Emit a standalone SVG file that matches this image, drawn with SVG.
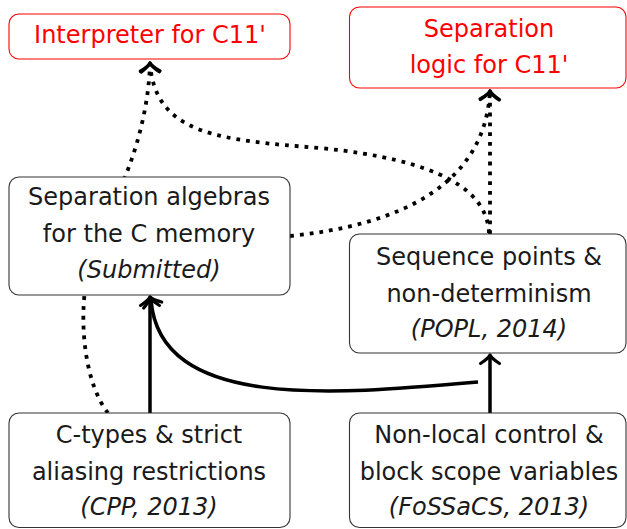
<svg xmlns="http://www.w3.org/2000/svg" width="627" height="529" viewBox="0 0 627 529">
<style>
.box{fill:#fff;stroke:#333;stroke-width:1.1}
.red{fill:#fff;stroke:#f00;stroke-width:1.1}
text{font-family:"DejaVu Sans","Liberation Sans",sans-serif;font-size:24px;text-anchor:middle;fill:#1a1a1a}
.rt{fill:#f00}
.it{font-style:italic}
.solid{fill:none;stroke:#000;stroke-width:3.5}
.dot{fill:none;stroke:#000;stroke-width:3.8;stroke-dasharray:3.8 6}
</style>
<defs>
<marker id="arr" markerUnits="userSpaceOnUse" markerWidth="24" markerHeight="24" viewBox="-12 -12 24 24" refX="0" refY="0" orient="auto" overflow="visible">
<path d="M-8.5,-9.5 C-5,-4 -2,-1 0,0 C-2,1 -5,4 -8.5,9.5" fill="none" stroke="#000" stroke-width="3.2" stroke-linecap="round" stroke-linejoin="round"/>
</marker>
</defs>
<g id="connectors">
<path class="dot" d="M108,413 C86,385 80,330 85,290 C90,250 115,200 125,177 C140,140 149,100 150,63" marker-end="url(#arr)"/>
<path class="dot" d="M489,233 C487,190 440,160 320,148 C220,140 155,135 150,63" marker-end="url(#arr)"/>
<path class="dot" d="M290,236 C400,225 485,185 490,91" marker-end="url(#arr)"/>
<path class="dot" d="M490,234 L490,91" marker-end="url(#arr)"/>
<path class="solid" d="M150,413 L150,297" marker-end="url(#arr)"/>
<path class="solid" d="M490,413 L490,355" marker-end="url(#arr)"/>
<path class="solid" d="M478,382 C330,395 160,410 151,300 L150,297" marker-end="url(#arr)"/>
</g>
<g id="interpreter">
<rect class="red" x="9" y="14" width="281" height="45" rx="10"/>
<text class="rt" x="150" y="43">Interpreter for C11'</text>
</g>
<g id="seplogic">
<rect class="red" x="349.5" y="7" width="276.5" height="81" rx="10"/>
<text class="rt" x="489" y="37">Separation</text>
<text class="rt" x="489" y="73">logic for C11'</text>
</g>
<g id="sepalg">
<rect class="box" x="9" y="177" width="281" height="118" rx="10"/>
<text x="149" y="205">Separation algebras</text>
<text x="149" y="241.5">for the C memory</text>
<text class="it" x="149" y="278">(Submitted)</text>
</g>
<g id="seqpoints">
<rect class="box" x="349.5" y="234" width="276.5" height="119" rx="10"/>
<text x="489" y="265">Sequence points &amp;</text>
<text x="489" y="301.5">non-determinism</text>
<text class="it" x="489" y="337">(POPL, 2014)</text>
</g>
<g id="ctypes">
<rect class="box" x="9" y="413" width="281" height="114.5" rx="10"/>
<text x="149" y="443">C-types &amp; strict</text>
<text x="149" y="480">aliasing restrictions</text>
<text class="it" x="149" y="515">(CPP, 2013)</text>
</g>
<g id="nonlocal">
<rect class="box" x="349.5" y="413" width="276.5" height="114.5" rx="10"/>
<text x="489" y="443">Non-local control &amp;</text>
<text x="489" y="480">block scope variables</text>
<text class="it" x="489" y="515">(FoSSaCS, 2013)</text>
</g>
</svg>
